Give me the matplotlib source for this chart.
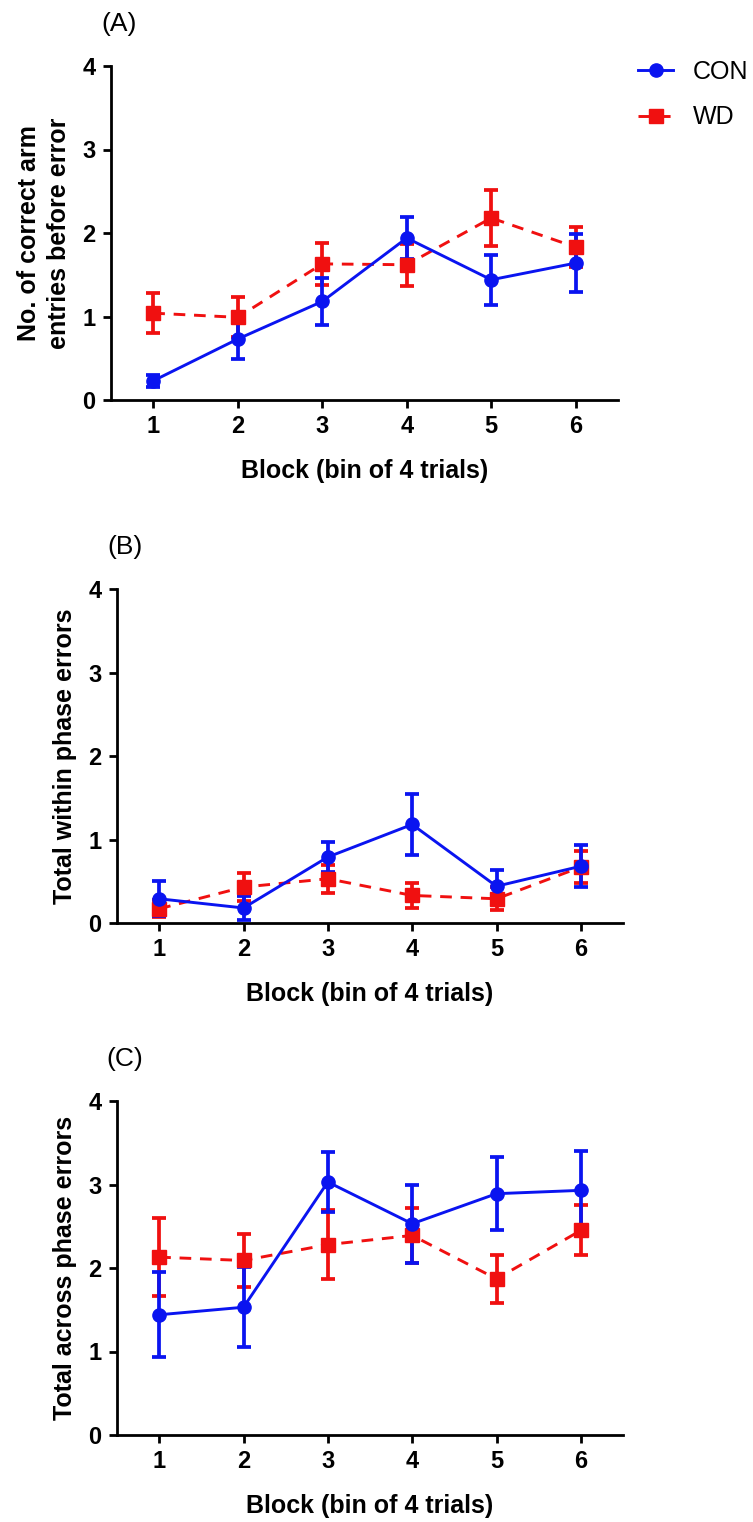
import matplotlib.pyplot as plt
from matplotlib.lines import Line2D

plt.rcParams['font.family'] = ['Liberation Sans', 'DejaVu Sans']

blocks = [1, 2, 3, 4, 5, 6]

# (A) correct arm entries before first error
con_a = [0.23, 0.73, 1.18, 1.94, 1.44, 1.64]
con_a_sem = [0.07, 0.24, 0.28, 0.25, 0.30, 0.35]
wd_a = [1.04, 0.99, 1.63, 1.62, 2.18, 1.83]
wd_a_sem = [0.24, 0.24, 0.25, 0.25, 0.33, 0.24]

# (B) within phase errors
con_b = [0.29, 0.18, 0.79, 1.18, 0.44, 0.68]
con_b_sem = [0.21, 0.14, 0.18, 0.37, 0.20, 0.25]
wd_b = [0.17, 0.43, 0.53, 0.33, 0.29, 0.67]
wd_b_sem = [0.10, 0.17, 0.17, 0.15, 0.14, 0.19]

# (C) across phase errors
con_c = [1.44, 1.53, 3.03, 2.53, 2.89, 2.93]
con_c_sem = [0.51, 0.48, 0.36, 0.47, 0.44, 0.47]
wd_c = [2.13, 2.09, 2.28, 2.39, 1.87, 2.45]
wd_c_sem = [0.47, 0.32, 0.41, 0.33, 0.29, 0.30]

W, H = 753, 1522

# axes boxes in pixels: left, top, right, bottom
panels = [
    ("(A)", "No. of correct arm\nentries before error", con_a, con_a_sem, wd_a, wd_a_sem,
     (111, 66, 618, 400)),
    ("(B)", "Total within phase errors", con_b, con_b_sem, wd_b, wd_b_sem,
     (117, 589, 623, 923)),
    ("(C)", "Total across phase errors", con_c, con_c_sem, wd_c, wd_c_sem,
     (117, 1101, 623, 1435)),
]

blue = '#0a14f0'
red = '#f01010'
wd_ls = (0, (4, 3))

fig = plt.figure(figsize=(W / 100, H / 100), dpi=100)

for tag, ylab, con, con_e, wd, wd_e, box in panels:
    l, t, r, b = box
    ax = fig.add_axes([l / W, 1 - b / H, (r - l) / W, (b - t) / H])
    ax.errorbar(blocks, wd, yerr=wd_e, color=red, ls=wd_ls, lw=2.1,
                marker='s', ms=9.5, capsize=5, capthick=2.7, elinewidth=2.7)
    ax.errorbar(blocks, con, yerr=con_e, color=blue, ls='-', lw=2.1,
                marker='o', ms=9.5, capsize=5, capthick=2.7, elinewidth=2.7)
    ax.set_xlim(0.5, 6.5)
    ax.set_ylim(0, 4)
    ax.set_yticks([0, 1, 2, 3, 4])
    ax.set_xticks(blocks)
    for s in ['top', 'right']:
        ax.spines[s].set_visible(False)
    for s in ['left', 'bottom']:
        ax.spines[s].set_linewidth(2)
    ax.tick_params(width=2, length=6, labelsize=17, pad=5)
    for lb in ax.get_xticklabels() + ax.get_yticklabels():
        lb.set_fontweight('bold')
    ax.set_xlabel("Block (bin of 4 trials)", fontsize=18, fontweight='bold', labelpad=15)
    ax.set_ylabel(ylab, fontsize=18, fontweight='bold', labelpad=8, linespacing=1.35)
    ax.text(8 / (r - l), 1 + 42 / (b - t), tag, transform=ax.transAxes,
            fontsize=19, ha='center', va='center')

# legend: plain line + marker, as in the original
handles = [
    Line2D([], [], color=blue, lw=2.1, marker='o', ms=9.5),
    Line2D([], [], color=red, lw=2.1, ls=wd_ls, marker='s', ms=9.5),
]
fig.legend(handles, ['CON', 'WD'], loc='upper left', bbox_to_anchor=(638 / W, 1 - 60 / H),
           frameon=False, fontsize=18, handlelength=1.4, handletextpad=0.8,
           labelspacing=0.85, borderpad=0, borderaxespad=0)

plt.savefig("out.png", dpi=100)
